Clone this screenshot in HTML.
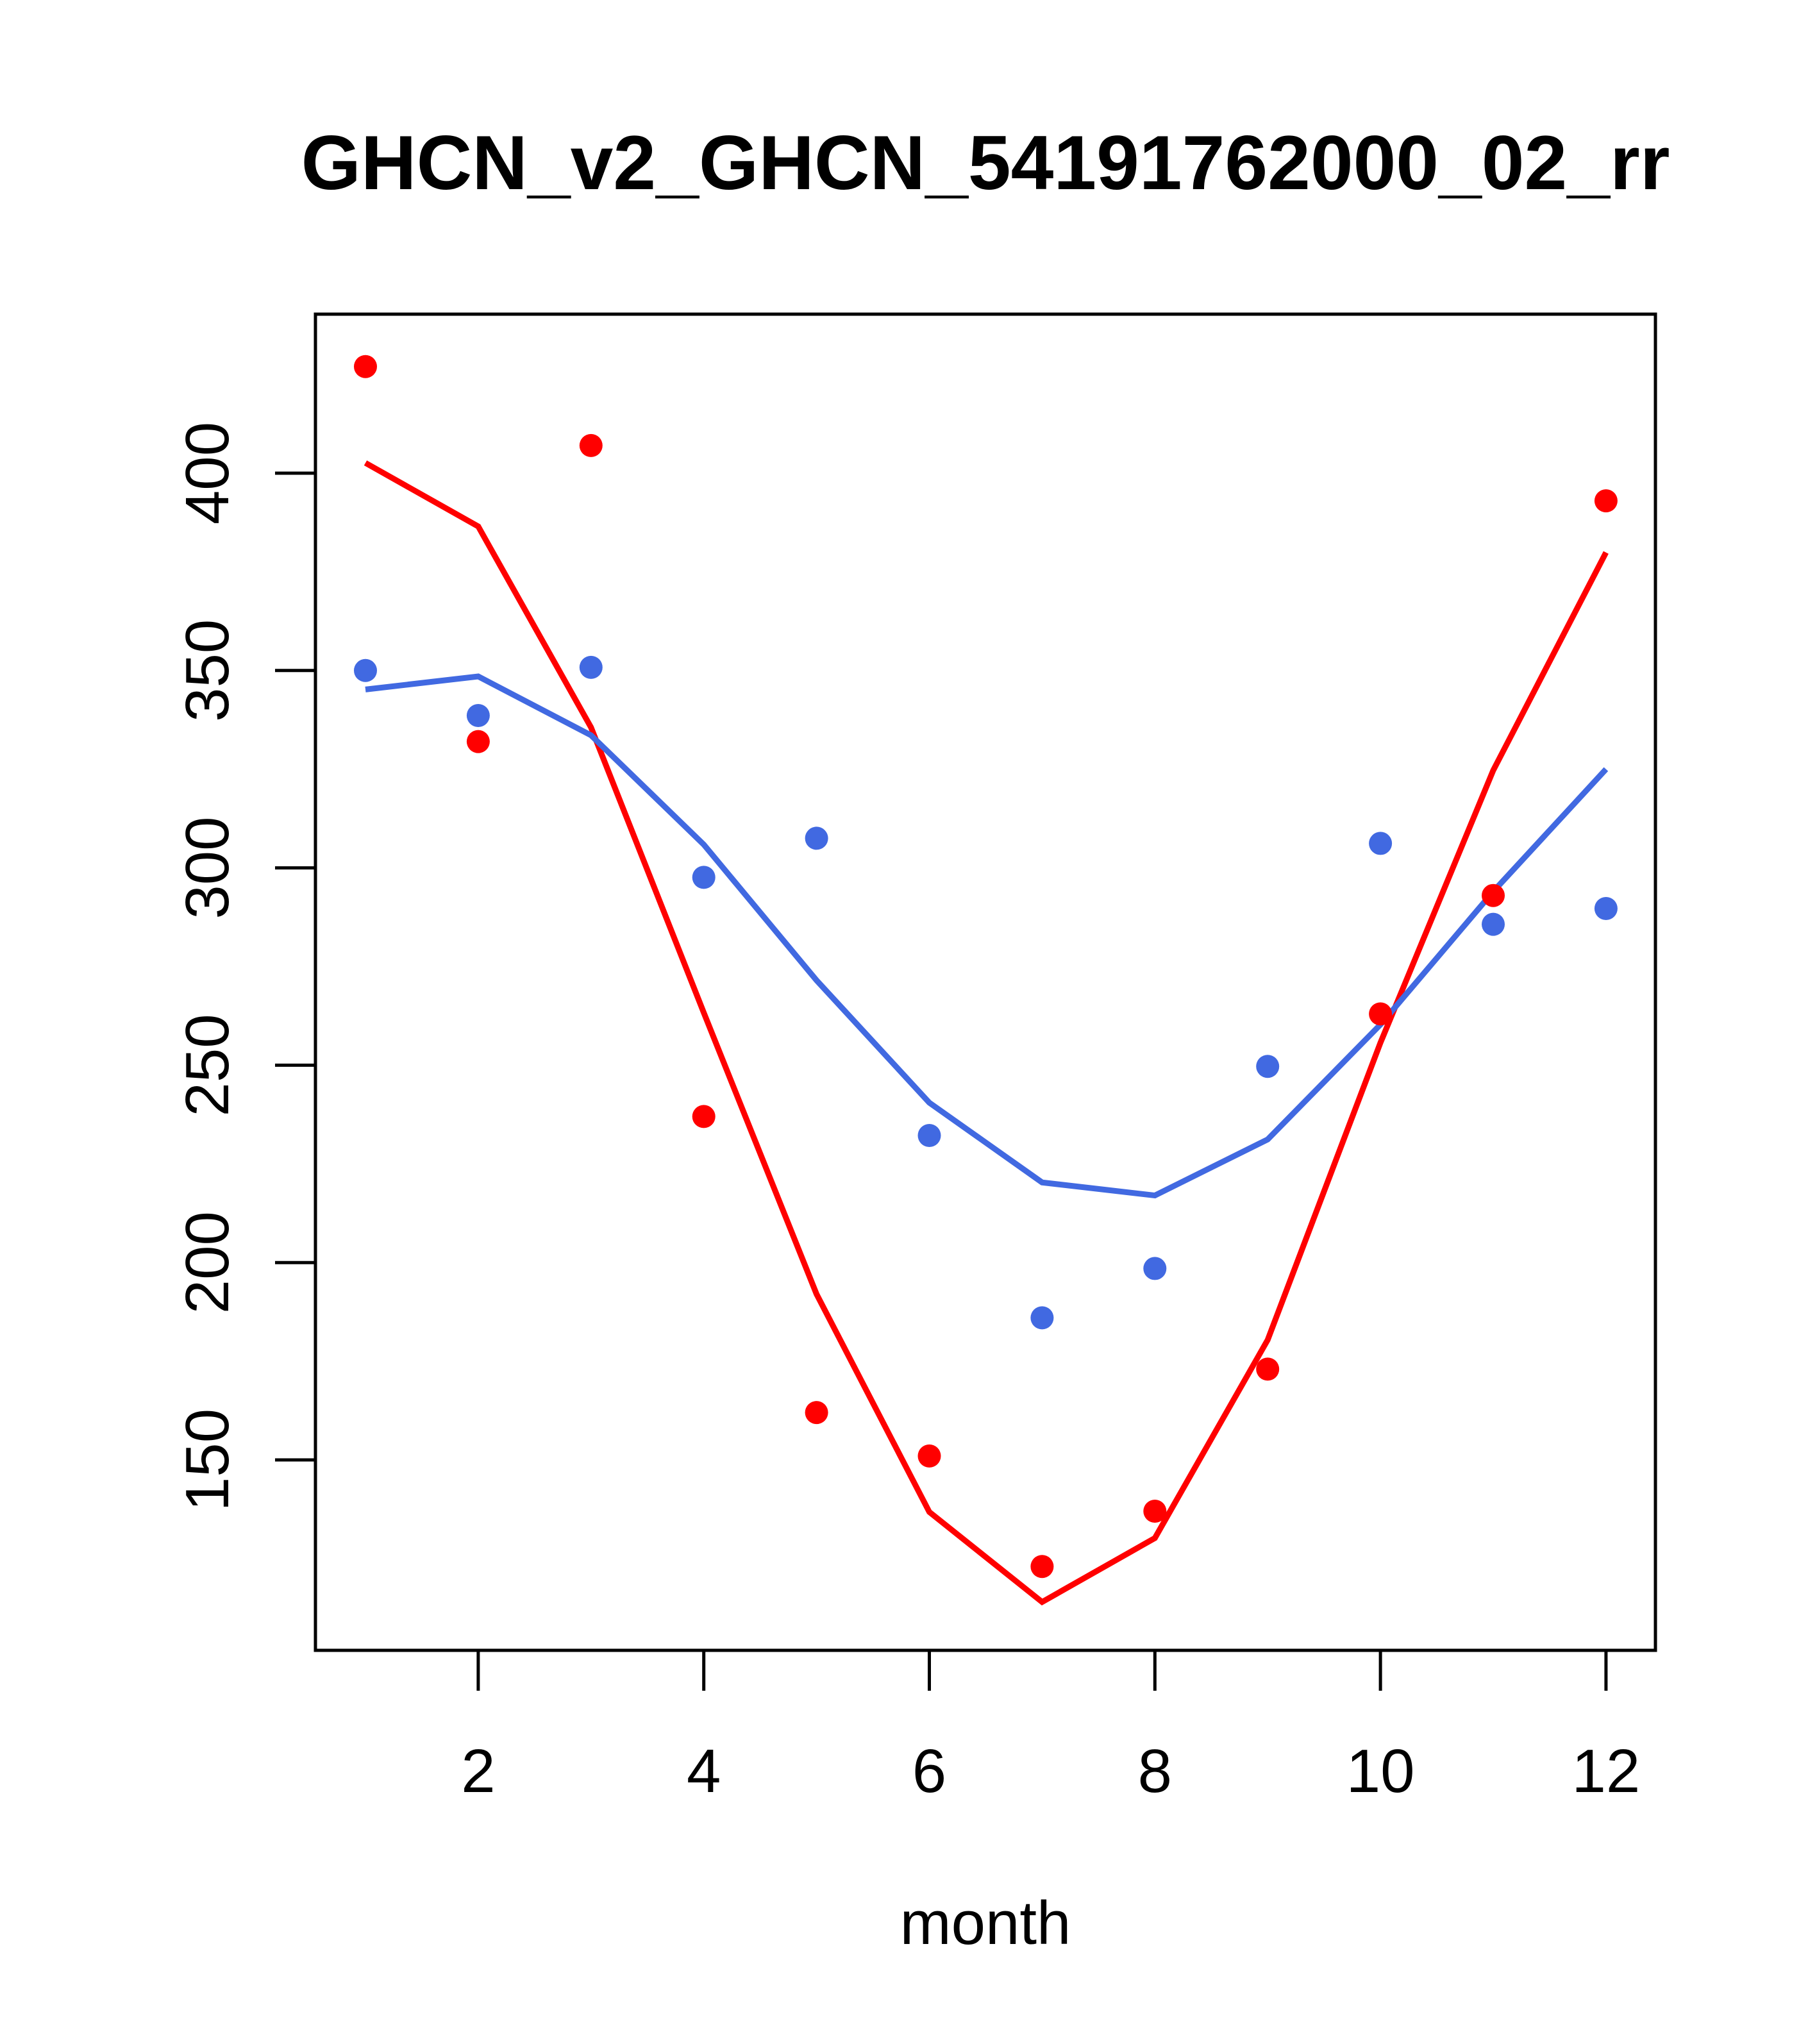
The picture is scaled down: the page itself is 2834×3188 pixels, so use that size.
<!DOCTYPE html>
<html><head><meta charset="utf-8"><style>
html,body{margin:0;padding:0;background:#fff;}
svg{display:block;}
text{font-family:"Liberation Sans",Arial,sans-serif;fill:#000;}
</style></head><body>
<svg id="chart" width="2834" height="3188" viewBox="0 0 2834 3188" xmlns="http://www.w3.org/2000/svg">
<rect width="2834" height="3188" fill="#fff"/>
<text x="1537" y="295" font-size="120" font-weight="bold" text-anchor="middle">GHCN_v2_GHCN_54191762000_02_rr</text>
<rect x="492" y="490" width="2090" height="2084" fill="none" stroke="#000" stroke-width="5"/>
<g id="xaxis"></g>
<g id="yaxis"></g>
<text x="1537" y="3032" font-size="96" text-anchor="middle">month</text>
<g id="series"></g>
</svg>
<script>
const months = [1,2,3,4,5,6,7,8,9,10,11,12];
const redPoints = [427,332,407,237,162,151,123,137,173,263,293,393];
const redLine = [402.6,386.5,335.6,263.3,192,136.8,114,130.2,180.4,255.7,324.7,379.9];
const bluePoints = [350,338.6,350.8,297.6,307.5,232.2,186,198.5,249.7,306.2,285.7,289.7];
const blueLine = [345.2,348.5,333.6,305.9,271.5,240.5,220.3,217,231.2,260.3,294,325];
const xTicks = [2,4,6,8,10,12];
const yTicks = [150,200,250,300,350,400];

const NS = "http://www.w3.org/2000/svg";
function xs(m){ return 570 + (m-1)*175.9; }
function ys(v){ return 738 + (400-v)*6.156; }
function mk(tag, attrs, parent){ const e=document.createElementNS(NS,tag); for(const k in attrs) e.setAttribute(k,attrs[k]); parent.appendChild(e); return e; }

const xa=document.getElementById('xaxis');
mk('line',{x1:xs(2),x2:xs(12),y1:2574,y2:2574,stroke:'#000','stroke-width':5},xa);
xTicks.forEach(t=>{
  const l=mk('line',{x1:xs(t),x2:xs(t),y1:2574,y2:2637,stroke:'#000','stroke-width':5},xa);
  
  
  const tx=mk('text',{x:xs(t),y:2795,'font-size':96,'text-anchor':'middle'},xa);
  tx.textContent=t;
  
  
});
const ya=document.getElementById('yaxis');
mk('line',{x1:492,x2:492,y1:ys(150),y2:ys(400),stroke:'#000','stroke-width':5},ya);
yTicks.forEach(t=>{
  const l=mk('line',{x1:429,x2:492,y1:ys(t),y2:ys(t),stroke:'#000','stroke-width':5},ya);
  
  
  const tx=mk('text',{x:0,y:0,'font-size':96,'text-anchor':'middle',transform:`translate(356,${ys(t)}) rotate(-90)`},ya);
  tx.textContent=t;
  
  
});

const s=document.getElementById('series');
function line(vals,color,name){
  const p=mk('polyline',{points:vals.map((v,i)=>xs(months[i])+','+ys(v)).join(' '),fill:'none',stroke:color,'stroke-width':9},s);
  
  
}
function pts(vals,color,name){
  vals.forEach((v,i)=>{
    const c=mk('circle',{cx:xs(months[i]),cy:ys(v),r:18,fill:color},s);
    
    
  });
}
line(redLine,'#ff0000','red-line');
line(blueLine,'#4169e1','blue-line');
pts(redPoints,'#ff0000','red-point');
pts(bluePoints,'#4169e1','blue-point');
</script>
</body></html>
